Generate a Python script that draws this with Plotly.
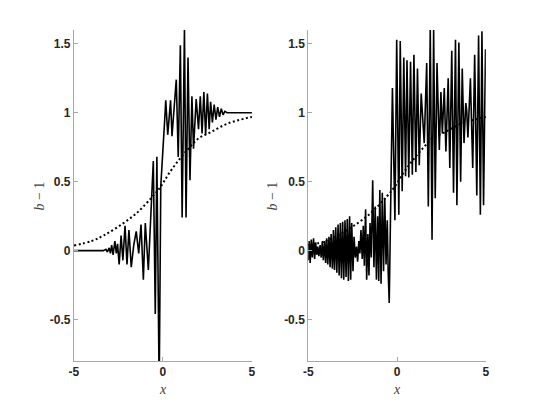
import plotly.graph_objects as go

# smooth reference curve (dotted), same in both panels
sig_x = [-5, -4, -3.34, -2.5, -1.5, -0.58, -0.12, 0.34, 0.9, 1.45, 2.0, 2.73, 3.66, 5]
sig_y = [0.038, 0.07, 0.11, 0.175, 0.27, 0.393, 0.465, 0.56, 0.658, 0.742, 0.814, 0.862, 0.923, 0.97]

# left panel solid curve
left_x = [-5.0, -3.35, -3.20, -3.12, -3.02, -2.95, -2.88, -2.80, -2.70, -2.62, -2.55, -2.46,
          -2.35, -2.25, -2.13, -2.02, -1.91, -1.78, -1.64, -1.50, -1.36, -1.23, -1.10, -0.99,
          -0.82, -0.54, -0.43, -0.34, -0.21, -0.12, 0.10, 0.16, 0.27, 0.43, 0.51, 0.75, 0.86,
          0.98, 1.08, 1.21, 1.30, 1.41, 1.52, 1.63, 1.72, 1.87, 2.00, 2.10, 2.20, 2.30, 2.40,
          2.50, 2.60, 2.68, 2.78, 2.88, 2.98, 3.08, 3.18, 3.28, 3.38, 3.48, 3.60, 5.0]
left_y = [0.0, 0.0, 0.01, -0.01, 0.02, -0.02, 0.04, -0.03, 0.07, -0.02, 0.05, -0.10,
          0.11, -0.07, 0.18, -0.10, 0.15, -0.12, 0.04, 0.14, -0.02, 0.19, -0.21, 0.20,
          -0.14, 0.65, -0.46, 0.68, -1.0, 0.47, 0.95, 1.09, 0.84, 1.09, 0.83, 1.24, 0.68,
          1.49, 0.24, 1.61, 0.24, 1.40, 0.51, 1.12, 0.74, 1.10, 0.88, 1.12, 0.85, 1.15, 0.84,
          1.14, 0.88, 1.08, 0.93, 1.06, 0.95, 1.04, 0.97, 1.03, 0.985, 1.01, 1.0, 1.0]

# right panel solid curve
right_x = [-5.00, -4.95, -4.89, -4.83, -4.77, -4.70, -4.64, -4.58, -4.52, -4.46, -4.40, -4.33,
           -4.27, -4.21, -4.15, -4.08, -4.02, -3.96, -3.90, -3.83, -3.77, -3.71, -3.64, -3.58,
           -3.52, -3.45, -3.39, -3.32, -3.26, -3.19, -3.13, -3.06, -3.00, -2.93, -2.87, -2.80,
           -2.74, -2.67, -2.61, -2.55, -2.48, -2.42, -2.35, -2.28, -2.22, -2.15, -2.09, -2.03,
           -1.96, -1.90, -1.84, -1.77, -1.71, -1.64, -1.58, -1.52, -1.45, -1.37, -1.30, -1.23,
           -1.16, -1.09, -1.03, -0.97, -0.90, -0.83, -0.76, -0.69, -0.62, -0.55, -0.50, -0.44,
           -0.26, -0.12, -0.02, 0.10, 0.18, 0.29, 0.38, 0.48, 0.56, 0.66, 0.76, 0.86, 0.95,
           1.06, 1.15, 1.25, 1.36, 1.53, 1.67, 1.76, 1.87, 1.97, 2.06, 2.15, 2.25, 2.38, 2.47,
           2.55, 2.66, 2.75, 2.88, 2.97, 3.08, 3.18, 3.29, 3.37, 3.48, 3.58, 3.67, 3.77, 3.87,
           3.92, 3.99, 4.13, 4.26, 4.37, 4.49, 4.59, 4.69, 4.78, 4.87, 4.98]
right_y = [-0.07, 0.07, -0.09, 0.08, -0.05, 0.09, -0.06, 0.06, -0.03, 0.03, -0.04, 0.04,
           -0.05, 0.06, -0.07, 0.07, -0.09, 0.09, -0.10, 0.10, -0.12, 0.12, -0.13, 0.15,
           -0.14, 0.17, -0.16, 0.19, -0.18, 0.20, -0.20, 0.21, -0.21, 0.22, -0.19, 0.23,
           -0.22, 0.25, -0.21, 0.20, -0.15, 0.10, -0.05, 0.03, -0.08, 0.07, -0.02, 0.15,
           -0.06, 0.18, -0.11, 0.30, -0.21, 0.12, -0.18, 0.20, -0.05, 0.51, -0.12, 0.32,
           -0.21, 0.25, -0.22, 0.44, -0.24, 0.42, -0.15, 0.38, -0.10, 0.22, -0.15, -0.38,
           1.18, 0.22, 1.53, 0.26, 1.52, 0.43, 1.40, 0.54, 1.38, 0.53, 1.37, 0.55, 1.42,
           0.57, 1.32, 0.62, 1.14, 0.78, 1.36, 0.32, 1.60, 0.08, 1.60, 0.38, 1.36, 0.73, 1.15,
           0.85, 1.18, 0.72, 1.25, 0.60, 1.45, 0.42, 1.53, 0.33, 1.51, 0.50, 1.32, 0.78, 1.07,
           1.02, 0.82, 1.25, 0.60, 1.42, 0.40, 1.56, 0.26, 1.59, 0.33, 1.46]

x_ticks = [-5, 0, 5]
x_ticktext = ["-5", "0", "5"]
y_ticks = [-0.5, 0, 0.5, 1, 1.5]
y_ticktext = ["-0.5", "0", "0.5", "1", "1.5"]

# page body has an 8px margin: figure drawn in a 532x397 box offset by 8px
W, H, OFF = 532, 397, 8


def fx(px):
    return (px - OFF) / W


def fy(py):
    return 1 - (py - OFF) / H


fig = go.Figure()
for i, (xs, ys) in enumerate([(left_x, left_y), (right_x, right_y)]):
    xa = "x" if i == 0 else "x2"
    ya = "y" if i == 0 else "y2"
    fig.add_trace(go.Scatter(x=xs, y=ys, mode="lines", xaxis=xa, yaxis=ya,
                             line=dict(color="black", width=1.6), showlegend=False))
    fig.add_trace(go.Scatter(x=sig_x, y=sig_y, mode="lines", xaxis=xa, yaxis=ya,
                             line=dict(color="black", width=2, dash="2px,2.5px", shape="spline"),
                             showlegend=False))

tickfont = dict(family="Liberation Sans, Arial", size=12, color="#262626", weight="bold")
axcommon = dict(showgrid=False, zeroline=False, showline=True, linecolor="#a8a8a8",
                linewidth=1, ticks="inside", ticklen=4, tickcolor="#a8a8a8",
                tickfont=tickfont, mirror=False)

ydom = [fy(361), fy(30)]
fig.update_layout(
    width=W, height=H,
    margin=dict(l=0, r=0, t=0, b=0),
    paper_bgcolor="white", plot_bgcolor="white",
    xaxis=dict(domain=[fx(70), fx(251)], range=[-5, 5], tickvals=x_ticks,
               ticktext=x_ticktext, anchor="y", **axcommon),
    yaxis=dict(domain=ydom, range=[-0.8, 1.6], tickvals=y_ticks,
               ticktext=y_ticktext, anchor="x", **axcommon),
    xaxis2=dict(domain=[fx(308.3), fx(489)], range=[-5, 5], tickvals=x_ticks,
                ticktext=x_ticktext, anchor="y2", **axcommon),
    yaxis2=dict(domain=ydom, range=[-0.8, 1.6], tickvals=y_ticks,
                ticktext=y_ticktext, anchor="x2", **axcommon),
)

labfont = dict(family="Liberation Serif, DejaVu Serif", size=14, color="#404040")
for xc, ylab_x in [((70 + 251) / 2, 35), ((308.3 + 489) / 2, 272)]:
    fig.add_annotation(text="<i>x</i>", x=fx(xc), y=fy(389), xref="paper", yref="paper",
                       xanchor="center", yanchor="middle", showarrow=False, font=labfont)
    fig.add_annotation(text="<i>b</i> − 1", x=fx(ylab_x), y=fy(196), xref="paper",
                       yref="paper", xanchor="center", yanchor="middle",
                       showarrow=False, font=labfont, textangle=-90)

fig.write_html("out.html")
